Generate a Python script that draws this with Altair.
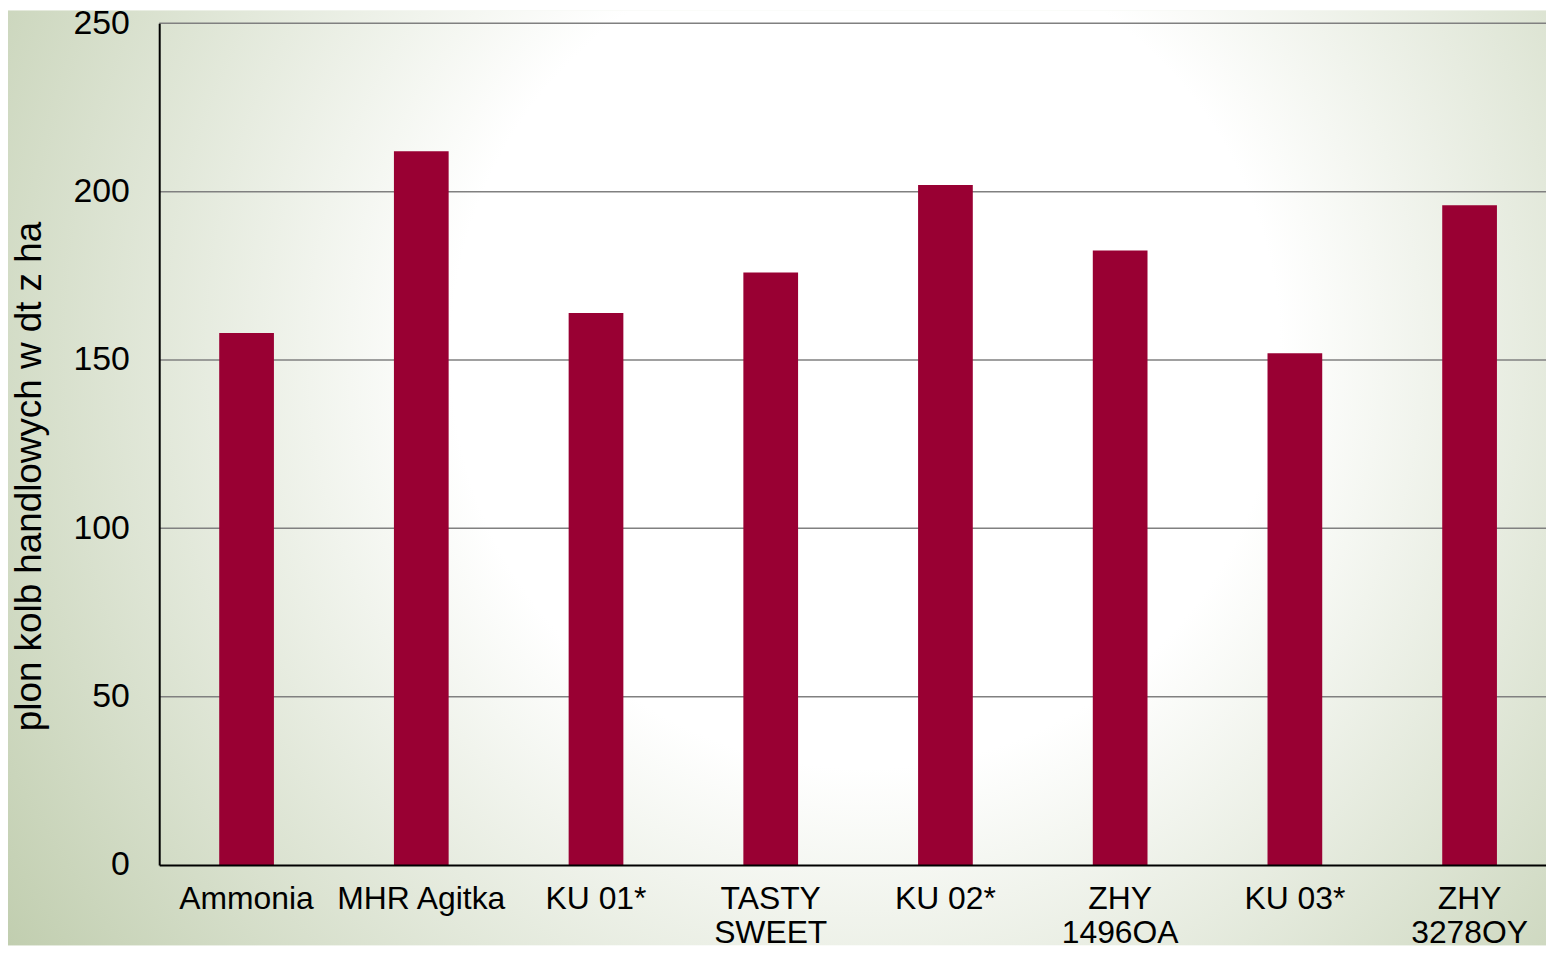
import altair as alt
import pandas as pd

categories = ["Ammonia", "MHR Agitka", "KU 01*", "TASTY SWEET", "KU 02*",
              "ZHY 1496OA", "KU 03*", "ZHY 3278OY"]
values = [158, 212, 164, 176, 202, 182.5, 152, 196]
y_ticks = [0, 50, 100, 150, 200, 250]
y_title = "plon kolb handlowych w dt z ha"

W, H = 1405, 846
PAD_L, PAD_T, PAD_B, PAD_R = 152, 13, 81, -11
FONT = "Liberation Sans"

df = pd.DataFrame({"cat": categories, "value": values})
grid_df = pd.DataFrame({"value": y_ticks[1:]})

y_scale = alt.Scale(domain=[0, 250], nice=False)
y_axis = alt.Axis(values=y_ticks, grid=False, ticks=False, tickSize=0,
                  labelFont=FONT, labelFontSize=34, labelColor="black",
                  labelPadding=30, domainColor="black", domainWidth=2,
                  titleFont=FONT, titleFontSize=37, titleFontWeight="normal",
                  titleColor="black", titleX=-119, titleY=455,
                  titleAlign="center", titleBaseline="alphabetic", titleAngle=270,
                  zindex=1)

bg = alt.Chart(alt.Data(values=[{}])).mark_rect(
    color=alt.Gradient(
        gradient="radial",
        stops=[
            alt.GradientStop(color="#ffffff", offset=0),
            alt.GradientStop(color="#ffffff", offset=0.38),
            alt.GradientStop(color="#bccaa9", offset=1),
        ],
        x1=0.55, y1=0.42, r1=0, x2=0.55, y2=0.42, r2=0.7,
    )
).encode(
    x=alt.value(-PAD_L), x2=alt.value(W + 10),
    y=alt.value(-PAD_T), y2=alt.value(H + PAD_B),
)

grid = alt.Chart(grid_df).mark_rule(color="#808080", strokeWidth=1.5).encode(
    y=alt.Y("value:Q", title=y_title, scale=y_scale, axis=y_axis)
)

bars = alt.Chart(df).mark_bar(color="#990033", size=55).encode(
    x=alt.X("cat:N", sort=categories, title=None,
            scale=alt.Scale(paddingInner=0, paddingOuter=0),
            axis=alt.Axis(labelAngle=0, labelFont=FONT, labelFontSize=32,
                          labelColor="black", ticks=False, tickSize=0,
                          labelPadding=19, labelLineHeight=34, labelLimit=0,
                          domainColor="black", domainWidth=2, zindex=1,
                          labelExpr="indexof(datum.label,'TASTY')==0 || indexof(datum.label,'ZHY')==0 ? split(datum.label,' ') : datum.label")),
    y=alt.Y("value:Q", title=y_title, scale=y_scale, axis=y_axis),
)

chart = alt.layer(bg, grid, bars).properties(
    width=W, height=H,
    autosize=alt.AutoSizeParams(type="none"),
    padding={"left": PAD_L, "top": PAD_T, "right": PAD_R, "bottom": PAD_B},
).configure_view(stroke=None).configure(background="#ffffff")

chart.save("out.html", embed_options={"renderer": "svg", "actions": False})
